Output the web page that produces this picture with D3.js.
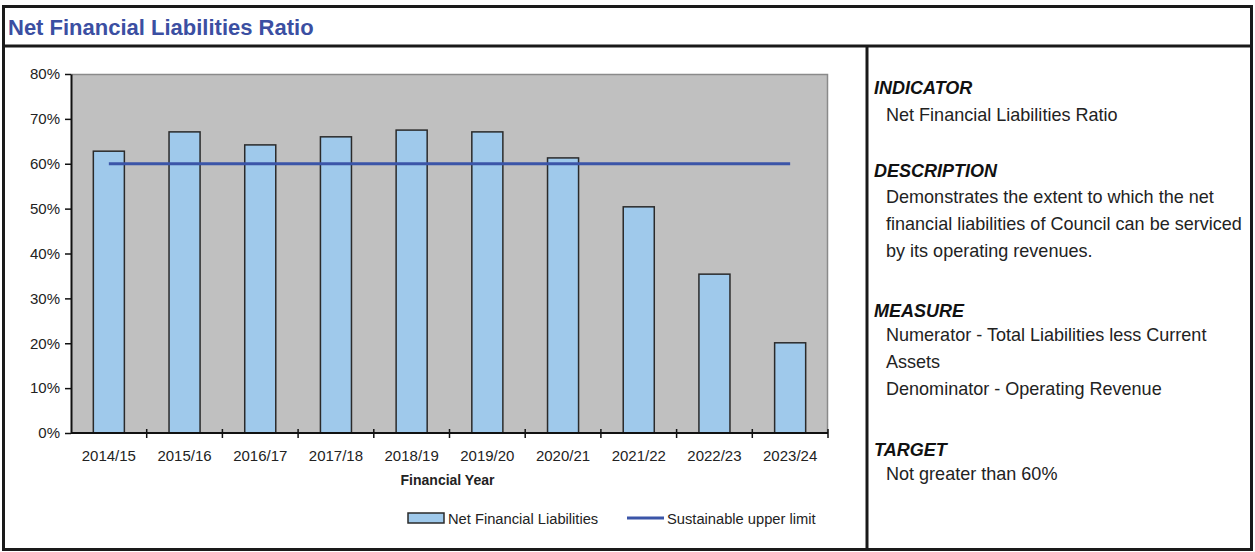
<!DOCTYPE html>
<html><head><meta charset="utf-8">
<script src="https://cdn.jsdelivr.net/npm/d3@7"></script>
<style>
html,body{margin:0;padding:0;background:#fff;}
svg{display:block;font-family:"Liberation Sans",Arial,sans-serif;}
</style></head>
<body>
<script>
const categories = ["2014/15","2015/16","2016/17","2017/18","2018/19","2019/20","2020/21","2021/22","2022/23","2023/24"];
const netFinancialLiabilities = [62.8,67.1,64.2,66.0,67.5,67.1,61.3,50.4,35.4,20.1];
const sustainableUpperLimit = [60,60,60,60,60,60,60,60,60,60];
const yTicks = [0,10,20,30,40,50,60,70,80];
const seriesNames = ["Net Financial Liabilities","Sustainable upper limit"];
const titleText = "Net Financial Liabilities Ratio";
const xAxisTitle = "Financial Year";
const panelSections = [
  {head:"INDICATOR", lines:["Net Financial Liabilities Ratio"]},
  {head:"DESCRIPTION", lines:["Demonstrates the extent to which the net","financial liabilities of Council can be serviced","by its operating revenues."]},
  {head:"MEASURE", lines:["Numerator - Total Liabilities less Current","Assets","Denominator - Operating Revenue"]},
  {head:"TARGET", lines:["Not greater than 60%"]}
];

const W=1255,H=552;
const svg=d3.select("body").append("svg").attr("width",W).attr("height",H);

// frame
const frame=svg.append("g").attr("fill","none").attr("stroke","#1a1a1a").attr("stroke-width",3);
frame.append("rect").attr("x",3.5).attr("y",6.5).attr("width",1248).attr("height",543);
frame.append("line").attr("x1",3).attr("x2",1252).attr("y1",46).attr("y2",46);
frame.append("line").attr("x1",867).attr("x2",867).attr("y1",46).attr("y2",550);

svg.append("text").attr("x",8).attr("y",35).attr("fill","#3b4fa2")
  .attr("font-size",22).attr("font-weight","bold").text(titleText);

// plot
const m={l:71,r:828,t:74,b:433};
const x=d3.scaleBand().domain(categories).range([m.l,m.r]).paddingInner(0).paddingOuter(0);
const y=d3.scaleLinear().domain([0,80]).range([m.b,m.t]);

svg.append("rect").attr("x",m.l).attr("y",m.t).attr("width",m.r-m.l).attr("height",m.b-m.t).attr("fill","#c0c0c0");
svg.append("path").attr("d",`M${m.l},${m.t+0.5}H${m.r-0.5}V${m.b}`).attr("fill","none").attr("stroke","#8a8a8a").attr("stroke-width",1.5);

const bw=x.bandwidth()*0.41;
svg.append("g").selectAll("rect").data(netFinancialLiabilities).join("rect")
  .attr("x",(d,i)=>x(categories[i])+x.bandwidth()/2-bw/2)
  .attr("y",d=>y(d)).attr("width",bw).attr("height",d=>y(0)-y(d))
  .attr("fill","#9fc9eb").attr("stroke","#2a2a2a").attr("stroke-width",1.5);

const line=d3.line().x((d,i)=>x(categories[i])+x.bandwidth()/2).y(d=>y(d));
svg.append("path").datum(sustainableUpperLimit).attr("d",line).attr("fill","none")
  .attr("stroke","#3b55a8").attr("stroke-width",3);

// axes
const yAx=svg.append("g").attr("transform",`translate(${m.l},0)`)
  .call(d3.axisLeft(y).tickValues(yTicks).tickFormat(d=>d+"%").tickSize(6).tickSizeOuter(0));
yAx.select(".domain").attr("stroke","#111").attr("stroke-width",2);
yAx.selectAll(".tick line").attr("stroke","#111").attr("stroke-width",1.5);
yAx.selectAll("text").attr("font-size",15).attr("fill","#222").attr("x",-11).attr("font-family","Liberation Sans, Arial, sans-serif");

const xb=d3.scaleLinear().domain([0,categories.length]).range([m.l,m.r]);
const xAx=svg.append("g").attr("transform",`translate(0,${m.b})`);
xAx.append("line").attr("x1",m.l).attr("x2",m.r).attr("stroke","#111").attr("stroke-width",2);
xAx.selectAll(".tk").data(d3.range(1,categories.length+1)).join("line")
  .attr("x1",d=>xb(d)).attr("x2",d=>xb(d)).attr("y1",-4).attr("y2",5).attr("stroke","#111").attr("stroke-width",1.5);
xAx.selectAll("text").data(categories).join("text")
  .attr("x",d=>x(d)+x.bandwidth()/2).attr("y",28).attr("text-anchor","middle")
  .attr("font-size",15).attr("fill","#222").text(d=>d);

svg.append("text").attr("x",(m.l+m.r)/2-2).attr("y",485).attr("text-anchor","middle")
  .attr("font-size",14).attr("font-weight","bold").attr("fill","#222").text(xAxisTitle);

// legend
const lg=svg.append("g");
lg.append("rect").attr("x",408).attr("y",513).attr("width",36).attr("height",10)
  .attr("fill","#9fc9eb").attr("stroke","#2a2a2a").attr("stroke-width",1.5);
lg.append("text").attr("x",448).attr("y",524).attr("font-size",14.7).attr("fill","#222").text(seriesNames[0]);
lg.append("line").attr("x1",627).attr("x2",664).attr("y1",518).attr("y2",518).attr("stroke","#3b55a8").attr("stroke-width",3);
lg.append("text").attr("x",667).attr("y",524).attr("font-size",14.7).attr("fill","#222").text(seriesNames[1]);

// right panel
const headY=[94,177,317,456];
const bodyY=[121,203,341,480];
const lineGap=27;
const rp=svg.append("g");
panelSections.forEach((s,i)=>{
  rp.append("text").attr("x",874).attr("y",headY[i]).attr("font-size",18).attr("font-weight","bold")
    .attr("font-style","italic").attr("fill","#111").text(s.head);
  s.lines.forEach((t,j)=>{
    rp.append("g").attr("transform",`translate(886,${bodyY[i]+j*lineGap}) scale(0.95,1)`)
      .append("text").attr("x",0).attr("y",0).attr("font-size",19)
      .attr("fill","#222").text(t);
  });
});
</script>
</body></html>
